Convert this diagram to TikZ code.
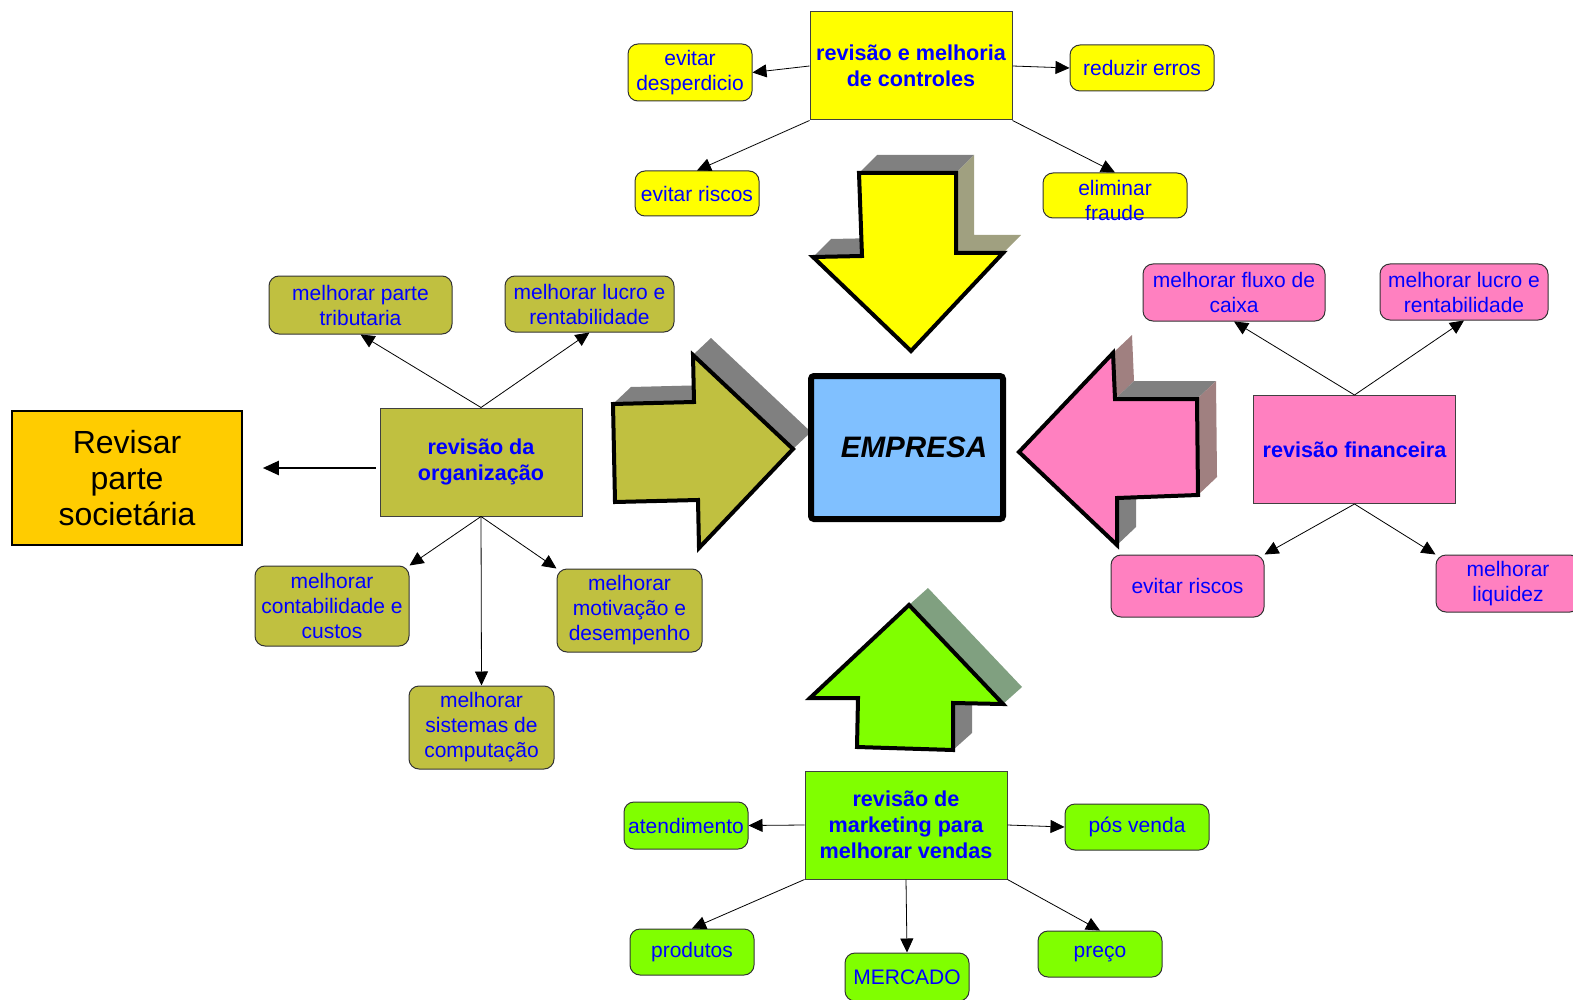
\documentclass[tikz,border=0pt]{standalone}
\usepackage{fontspec}
\setmainfont{Liberation Sans}
\usetikzlibrary{arrows.meta}
\definecolor{ctrlyellow}{HTML}{FFFF00}
\definecolor{orgolive}{HTML}{C0C040}
\definecolor{finpink}{HTML}{FF80C0}
\definecolor{mktgreen}{HTML}{80FF00}
\definecolor{empblue}{HTML}{80C0FF}
\definecolor{socorange}{HTML}{FFCC00}
\definecolor{shadegray}{HTML}{808080}
\definecolor{shadekhaki}{HTML}{A0A080}
\definecolor{shadegreen}{HTML}{80A080}
\definecolor{shadepink}{HTML}{A08080}
\tikzset{
  hub/.style={draw=black!75, line width=0.5pt, align=center, text=blue,
    font=\fontsize{10.8}{13}\selectfont\bfseries, inner sep=1pt,
    minimum width=101pt, minimum height=54pt},
  leaf/.style={draw=black!80, line width=0.5pt, rounded corners=5pt, align=center,
    text=blue, font=\fontsize{10.5}{12.5}\selectfont, inner sep=1pt},
  leaf text/.style={align=center, text=blue, font=\fontsize{10.5}{12.5}\selectfont, inner sep=0pt},
  link/.style={-{Triangle[length=7pt,width=6.5pt]}, line width=0.4pt},
  block/.style={draw=black, line width=2pt, line join=miter},
}
\begin{document}
\begin{tikzpicture}[x=0.5pt, y=-0.5pt]
  \useasboundingbox (0,0) rectangle (1573,1000);

  \fill[shadegray] (859,173) -- (877,155) -- (974,155) -- (956,173) -- cycle;
  \fill[shadekhaki] (956,173) -- (974,155) -- (974,235) -- (1021,235) -- (1003,253) -- (956,253) -- cycle;
  \fill[shadegray] (813,257) -- (831,239) -- (880,238) -- (862,256) -- cycle;
  \draw[block, fill=ctrlyellow] (859,173) -- (956,173) -- (956,253) -- (1003,253) -- (911,351) -- (813,257) -- (862,256) -- cycle;

  \fill[shadegray] (613,404) -- (631,387) -- (712,385) -- (694,402) -- cycle;
  \fill[shadegray] (693,355) -- (711,338) -- (811,432) -- (793,449) -- cycle;
  \draw[block, fill=orgolive] (613,404) -- (694,402) -- (693,355) -- (793,449) -- (699,548) -- (698,500) -- (615,502) -- cycle;

  \fill[shadepink] (1113,353) -- (1132,335) -- (1134,381) -- (1115,399) -- cycle;
  \fill[shadegray] (1115,399) -- (1134,381) -- (1216,381) -- (1197,399) -- cycle;
  \fill[shadepink] (1197,399) -- (1216,381) -- (1217,477) -- (1198,495) -- cycle;
  \fill[shadegray] (1117,498) -- (1136,480) -- (1136,527) -- (1117,545) -- cycle;
  \draw[block, fill=finpink] (1019,452) -- (1113,353) -- (1115,399) -- (1197,399) -- (1198,495) -- (1117,498) -- (1117,545) -- cycle;

  \fill[shadegray] (953,703) -- (972,686) -- (972,733) -- (953,750) -- cycle;
  \fill[shadegreen] (909,605) -- (928,588) -- (1022,687) -- (1003,704) -- cycle;
  \draw[block, fill=mktgreen] (909,605) -- (1003,704) -- (953,703) -- (953,750) -- (857,747) -- (858,698) -- (810,698) -- cycle;

  \node[draw=black, line width=3pt, rounded corners=1.5pt, fill=empblue, minimum width=96pt, minimum height=71.5pt,
    font=\fontsize{14.8}{17}\selectfont\bfseries\itshape] (empresa) at (907,447.5) {\hspace*{7pt}EMPRESA};

  \node[hub, fill=ctrlyellow] (ctrl) at (911,66) {revisão e melhoria\\de controles};
  \node[leaf, fill=ctrlyellow, minimum width=62pt, minimum height=28.5pt] (desp) at (690,72.5) {evitar\\desperdicio};
  \node[leaf, fill=ctrlyellow, minimum width=72pt, minimum height=23pt] (erros) at (1142,68) {reduzir erros};
  \node[leaf, fill=ctrlyellow, minimum width=62pt, minimum height=22.5pt] (riscos ctrl) at (697,193.5) {evitar riscos};
  \node[leaf, fill=ctrlyellow, minimum width=72pt, minimum height=22.5pt] (fraude) at (1115,195.5) {};
  \node[leaf text] (fraude text) at ([yshift=-2.5pt]fraude.center) {eliminar\\fraude};
  \draw[link] (ctrl.west) -- (desp.east);
  \draw[link] (ctrl.east) -- (erros.west);
  \draw[link] (ctrl.south west) -- (riscos ctrl.north);
  \draw[link] (ctrl.south east) -- (fraude.north);

  \node[hub, fill=orgolive] (org) at (481,462) {revisão da\\organização};
  \node[leaf, fill=orgolive, minimum width=91.5pt, minimum height=29pt] (trib) at (360.5,305) {melhorar parte\\tributaria};
  \node[leaf, fill=orgolive, minimum width=84.5pt, minimum height=28pt] (lucro org) at (589.5,304) {melhorar lucro e\\rentabilidade};
  \node[leaf, fill=orgolive, minimum width=77pt, minimum height=40pt] (cont) at (332,606) {melhorar\\contabilidade e\\custos};
  \node[leaf, fill=orgolive, minimum width=72.5pt, minimum height=41.5pt] (motiv) at (629.5,610.5) {melhorar\\motivação e\\desempenho};
  \node[leaf, fill=orgolive, minimum width=72.5pt, minimum height=41.5pt] (sist) at (481.5,727.5) {melhorar\\sistemas de\\computação};
  \node[draw=black, line width=0.8pt, fill=socorange, minimum width=115pt, minimum height=67pt, align=center,
    font=\fontsize{16}{18}\selectfont] (soc) at (127,478) {Revisar\\parte\\societária};
  \draw[link] (org.north) -- (trib.south);
  \draw[link] (org.north) -- (lucro org.south);
  \draw[link] (org.south) -- (cont.north east);
  \draw[link] (org.south) -- (sist.north);
  \draw[link] (org.south) -- (motiv.north west);
  \coordinate (org out) at ([xshift=-2pt,yshift=-3pt]org.west);
  \draw[-{Triangle[length=8pt,width=7pt]}, line width=1.1pt, shorten >=10pt] (org out) -- (org out -| soc.east);

  \node[hub, fill=finpink] (fin) at (1354.5,449.5) {revisão financeira};
  \node[leaf, fill=finpink, minimum width=91pt, minimum height=28.5pt] (fluxo) at (1234,292.5) {melhorar fluxo de\\caixa};
  \node[leaf, fill=finpink, minimum width=84pt, minimum height=28pt] (lucro fin) at (1464,292) {melhorar lucro e\\rentabilidade};
  \node[leaf, fill=finpink, minimum width=76.5pt, minimum height=31pt] (riscos fin) at (1187.5,586) {evitar riscos};
  \node[leaf, fill=finpink, minimum width=72pt, minimum height=28.5pt] (liq) at (1508,583.5) {melhorar\\liquidez};
  \draw[link] (fin.north) -- (fluxo.south);
  \draw[link] (fin.north) -- (lucro fin.south);
  \draw[link] (fin.south) -- (riscos fin.north east);
  \draw[link] (fin.south) -- (liq.north west);

  \node[hub, fill=mktgreen] (mkt) at (906,825) {revisão de\\marketing para\\melhorar vendas};
  \node[leaf, fill=mktgreen, minimum width=62pt, minimum height=23.5pt] (atend) at (686,825.5) {atendimento};
  \node[leaf, fill=mktgreen, minimum width=72pt, minimum height=23pt] (pos) at (1137,827) {pós venda};
  \node[leaf, fill=mktgreen, minimum width=62pt, minimum height=23pt] (prod) at (692,952) {produtos};
  \node[leaf, fill=mktgreen, minimum width=62pt, minimum height=24pt] (merc) at (907,977) {MERCADO};
  \node[leaf, fill=mktgreen, minimum width=62pt, minimum height=23pt] (preco) at (1100,954) {preço};
  \draw[link] (mkt.west) -- (atend.east);
  \draw[link] (mkt.east) -- (pos.west);
  \draw[link] (mkt.south west) -- (prod.north);
  \draw[link] (mkt.south) -- (merc.north);
  \draw[link] (mkt.south east) -- (preco.north);
\end{tikzpicture}
\end{document}
